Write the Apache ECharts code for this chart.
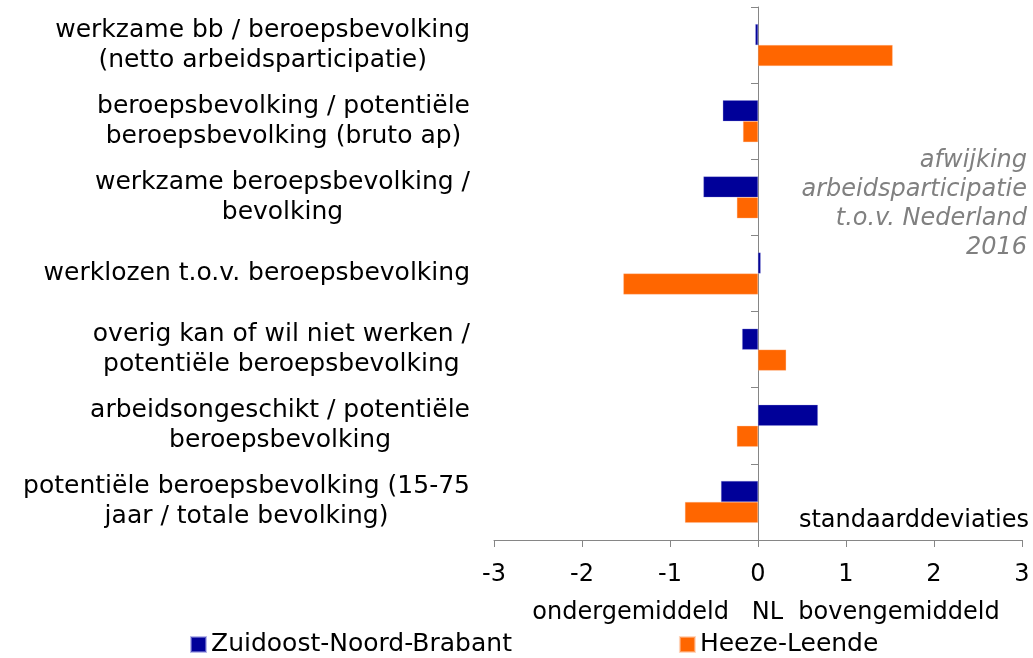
<!DOCTYPE html>
<html>
<head>
<meta charset="utf-8">
<script src="https://cdn.jsdelivr.net/npm/echarts@6/dist/echarts.min.js"></script>
<style>
  html, body { margin: 0; padding: 0; background: #fff; }
  #chart { width: 1033px; height: 658px; }
</style>
</head>
<body>
<div id="chart"></div>
<script>
const categories = [
  "werkzame bb / beroepsbevolking\n(netto arbeidsparticipatie)",
  "beroepsbevolking / potentiële\nberoepsbevolking (bruto ap)",
  "werkzame beroepsbevolking /\nbevolking",
  "werklozen t.o.v. beroepsbevolking",
  "overig kan of wil niet werken /\npotentiële beroepsbevolking",
  "arbeidsongeschikt / potentiële\nberoepsbevolking",
  "potentiële beroepsbevolking (15-75\njaar / totale bevolking)"
];
const seriesNames = ["Zuidoost-Noord-Brabant", "Heeze-Leende"];
const regioValues = [-0.03, -0.40, -0.62, 0.03, -0.18, 0.68, -0.42];
const gemeenteValues = [1.53, -0.17, -0.24, -1.53, 0.32, -0.24, -0.83];
const xTicks = { min: -3, max: 3, interval: 1 };

const FONT = "DejaVu Sans, Verdana, sans-serif";
const AXIS_GRAY = "#868686";

const chart = echarts.init(document.getElementById("chart"), null, { renderer: "canvas" });

const option = {
  animation: false,
  textStyle: { fontFamily: FONT },
  grid: { left: 494, right: 11, top: 7, bottom: 118, containLabel: false },
  legend: {
    left: 185,
    top: 627,
    itemWidth: 15,
    itemHeight: 15,
    itemGap: 167,
    icon: "rect",
    textStyle: { fontFamily: FONT, fontSize: 25, color: "#000" },
    data: seriesNames
  },
  xAxis: {
    type: "value",
    min: xTicks.min,
    max: xTicks.max,
    interval: xTicks.interval,
    splitLine: { show: false },
    axisLine: { show: true, onZero: false, lineStyle: { color: AXIS_GRAY, width: 1 } },
    axisTick: { show: true, length: 7, lineStyle: { color: AXIS_GRAY } },
    axisLabel: { color: "#000", fontSize: 24, fontFamily: FONT, margin: 23 },
    name: "ondergemiddeld   NL  bovengemiddeld",
    nameLocation: "middle",
    nameGap: 61,
    nameTextStyle: { color: "#000", fontSize: 24, fontFamily: FONT, padding: [0, 0, 0, 16] }
  },
  yAxis: [
    {
      type: "category",
      inverse: true,
      data: categories,
      position: "left",
      axisLine: { show: true, onZero: true, lineStyle: { color: AXIS_GRAY, width: 1 } },
      axisTick: { show: true, length: 7, lineStyle: { color: AXIS_GRAY } },
      axisLabel: { show: false },
      splitLine: { show: false }
    },
    {
      // labels only, kept at the left edge of the plot
      type: "category",
      inverse: true,
      data: categories,
      position: "left",
      axisLine: { show: false, onZero: false },
      axisTick: { show: false },
      splitLine: { show: false },
      axisLabel: {
        show: true,
        margin: 24,
        align: "right",
        formatter: (value) => value.split("\n").map((s) => "{c|" + s + "}").join("\n"),
        rich: {
          c: { align: "center", fontSize: 25, fontFamily: FONT, color: "#000", lineHeight: 30 }
        }
      }
    }
  ],
  series: [
    {
      name: seriesNames[0],
      type: "bar",
      yAxisIndex: 0,
      data: regioValues,
      barGap: "0%",
      barCategoryGap: "45%",
      itemStyle: { color: "#000099", borderColor: "rgba(140,140,220,0.6)", borderWidth: 0.5 }
    },
    {
      name: seriesNames[1],
      type: "bar",
      yAxisIndex: 0,
      data: gemeenteValues,
      barGap: "0%",
      barCategoryGap: "45%",
      itemStyle: { color: "#FF6600", borderColor: "rgba(255,190,150,0.6)", borderWidth: 0.5 }
    }
  ],
  graphic: [
    {
      type: "text",
      right: 6,
      top: 146,
      style: {
        text: "afwijking\narbeidsparticipatie\nt.o.v. Nederland\n2016",
        align: "right",
        textAlign: "right",
        fill: "#808080",
        font: "italic 24px " + FONT,
        lineHeight: 29
      }
    },
    {
      type: "text",
      right: 4,
      top: 509,
      style: {
        text: "standaarddeviaties",
        fill: "#000",
        font: "24px " + FONT
      }
    }
  ]
};

chart.setOption(option);
</script>
</body>
</html>
